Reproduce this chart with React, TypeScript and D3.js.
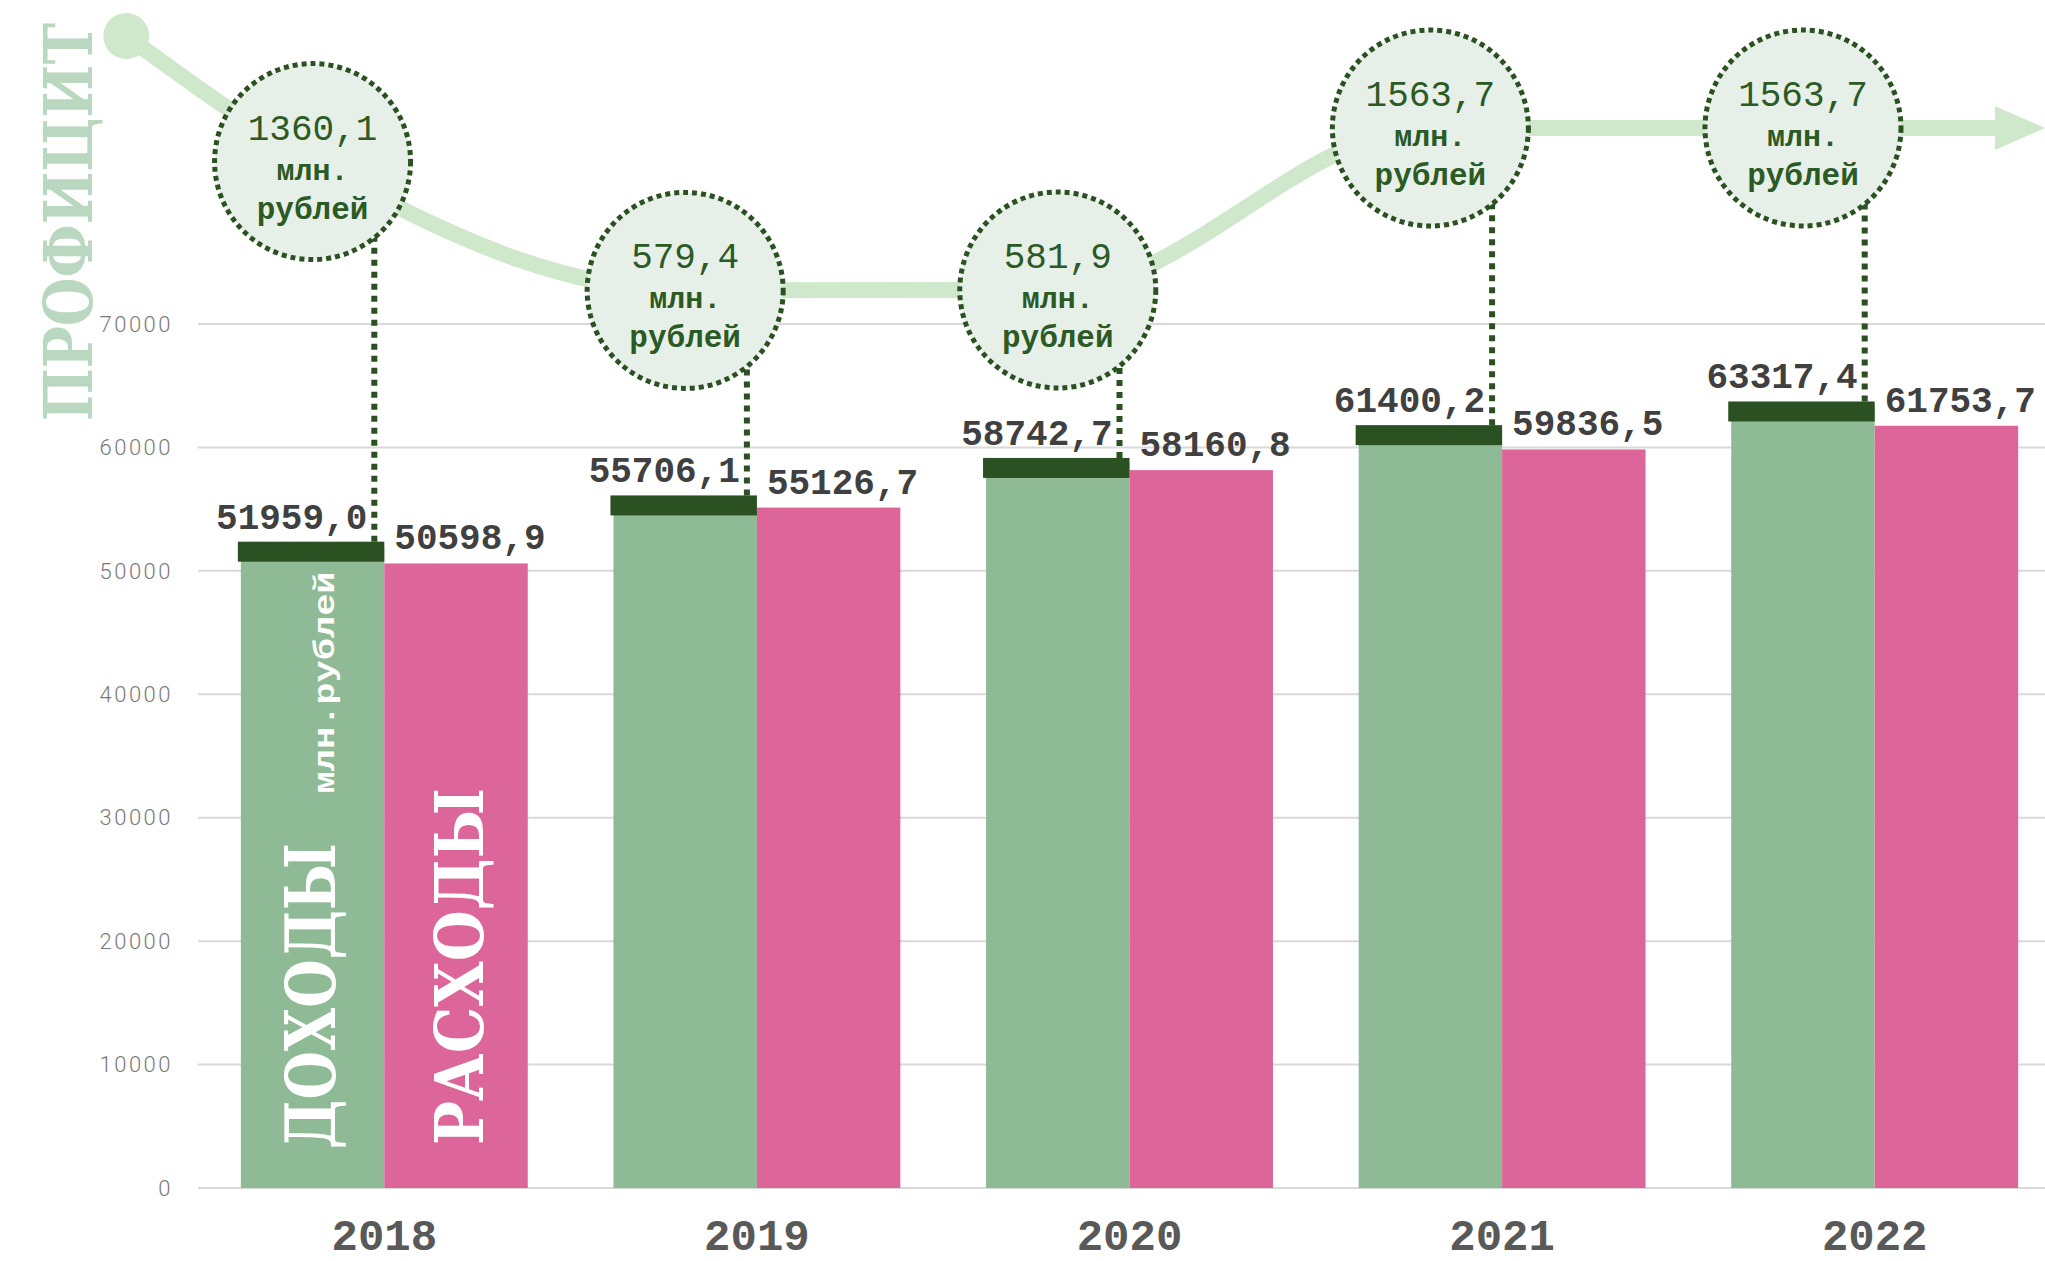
import * as d3 from 'd3';

// budget, млн. рублей
const years = ['2018', '2019', '2020', '2021', '2022'];
const income = [51959.0, 55706.1, 58742.7, 61400.2, 63317.4];
const expense = [50598.9, 55126.7, 58160.8, 59836.5, 61753.7];
const surplus = [1360.1, 579.4, 581.9, 1563.7, 1563.7];
const yTicks = [0, 10000, 20000, 30000, 40000, 50000, 60000, 70000];

const W = 2045;
const H = 1261;

const GREEN = '#8fba96';
const PINK = '#dc6699';
const DARK = '#2b5122';
const LINE = '#cfe8cc';

const fmt = (v: number) => v.toFixed(1).replace('.', ',');

const mono = '"Liberation Mono", "DejaVu Sans Mono", monospace';
const serif = '"DejaVu Serif", "Liberation Serif", serif';

export default function App() {
  const x = d3.scaleBand<string>().domain(years).range([198, 2061]).paddingInner(0.23).paddingOuter(0.115);
  const xs = d3.scaleBand<string>().domain(['income', 'expense']).range([0, x.bandwidth()]);
  const y = d3.scaleLinear().domain([0, 70000]).range([1188, 324]);
  // hidden scale for the surplus ribbon
  const yp = d3.scaleLinear().domain([0, 2000]).range([386, 56]);
  const bw = xs.bandwidth();

  const gx = (i: number) => (x(years[i]) as number) + (xs('income') as number);
  const rx = (i: number) => (x(years[i]) as number) + (xs('expense') as number);
  const cx = (i: number) => gx(i) + bw / 2;

  const lastY = yp(surplus[surplus.length - 1]);
  const pts: [number, number][] = [
    [cx(0) - x.step() / 2, 36],
    ...years.map((_, i) => [cx(i), yp(surplus[i])] as [number, number]),
    [W - 50, lastY],
  ];
  const ribbon = d3.line().curve(d3.curveMonotoneX)(pts) || '';

  const R = 98;
  const capH = 20;

  return (
    <div>
      <style>{`body{margin:0;background:#fff}`}</style>
      <svg width={W} height={H} style={{ display: 'block' }}>
        {/* grid + y axis */}
        {yTicks.map((t) => (
          <g key={t}>
            <line x1={198} x2={W} y1={y(t)} y2={y(t)} stroke="#d9d9d9" strokeWidth={2} />
            <text
              x={173}
              y={y(t)}
              dy="0.35em"
              textAnchor="end"
              fontFamily="Roboto, sans-serif"
              fontWeight={300}
              fontSize={22}
              letterSpacing={2.5}
              fill="#7a7a7a"
            >
              {t}
            </text>
          </g>
        ))}

        {/* surplus ribbon */}
        <path d={ribbon} fill="none" stroke={LINE} strokeWidth={16} />
        <circle cx={pts[0][0]} cy={pts[0][1]} r={23} fill={LINE} />
        <polygon points={`${W},${lastY} ${W - 50},${lastY - 22} ${W - 50},${lastY + 22}`} fill={LINE} />

        <text
          transform={`translate(92,421) rotate(-90)`}
          fontFamily={serif}
          fontWeight={700}
          fontSize={68}
          fill="#b9d8bf"
          textLength={398}
          lengthAdjust="spacingAndGlyphs"
        >
          ПРОФИЦИТ
        </text>

        {/* bars */}
        {years.map((yr, i) => (
          <g key={yr}>
            <rect x={gx(i)} y={y(income[i])} width={bw} height={y(0) - y(income[i])} fill={GREEN} />
            <rect x={rx(i)} y={y(expense[i])} width={bw} height={y(0) - y(expense[i])} fill={PINK} />
            <rect x={gx(i) - 3} y={y(income[i]) - 5} width={bw + 3} height={capH} fill={DARK} />
            <text
              x={gx(i) + bw - 17}
              y={y(income[i]) - 18}
              textAnchor="end"
              fontFamily={mono}
              fontWeight={700}
              fontSize={36}
              fill="#404040"
            >
              {fmt(income[i])}
            </text>
            <text
              x={rx(i) + 10}
              y={y(expense[i]) - 14}
              fontFamily={mono}
              fontWeight={700}
              fontSize={36}
              fill="#404040"
            >
              {fmt(expense[i])}
            </text>
            <text
              x={x(yr)! + x.bandwidth() / 2}
              y={1250}
              textAnchor="middle"
              fontFamily={mono}
              fontWeight={700}
              fontSize={44}
              fill="#595959"
            >
              {yr}
            </text>
          </g>
        ))}

        {/* series labels inside first group */}
        <text
          transform={`translate(${cx(0) + 22},${y(0) - 39}) rotate(-90)`}
          fontFamily={serif}
          fontWeight={700}
          fontSize={70}
          fill="#fff"
          textLength={306}
          lengthAdjust="spacingAndGlyphs"
        >
          ДОХОДЫ
        </text>
        <text
          transform={`translate(${rx(0) + bw / 2 + 27},${y(0) - 43}) rotate(-90)`}
          fontFamily={serif}
          fontWeight={700}
          fontSize={68}
          fill="#fff"
          textLength={357}
          lengthAdjust="spacingAndGlyphs"
        >
          РАСХОДЫ
        </text>
        <text
          transform={`translate(${cx(0) + 21},${y(expense[0]) + 8}) rotate(-90)`}
          textAnchor="end"
          fontFamily={mono}
          fontWeight={700}
          fontSize={30}
          fill="#fff"
          textLength={222}
          lengthAdjust="spacingAndGlyphs"
        >
          млн.рублей
        </text>

        {/* connectors + surplus bubbles */}
        {years.map((yr, i) => {
          const cy = yp(surplus[i]);
          return (
            <g key={'b' + yr}>
              <line
                x1={gx(i) + bw - 10}
                x2={gx(i) + bw - 10}
                y1={y(income[i]) - 5}
                y2={cy}
                stroke={DARK}
                strokeWidth={6}
                strokeDasharray="6 6"
              />
              <circle cx={cx(i)} cy={cy} r={R} fill="#e6f0e8" stroke={DARK} strokeWidth={5} strokeDasharray="5 4" />
              <text x={cx(i)} y={cy - 22} textAnchor="middle" fontFamily={mono} fontWeight={400} fontSize={36} fill="#2c5a25">
                {fmt(surplus[i])}
              </text>
              <text x={cx(i)} y={cy + 18} textAnchor="middle" fontFamily={mono} fontWeight={700} fontSize={30} fill="#2c5a25">
                млн.
              </text>
              <text x={cx(i)} y={cy + 57} textAnchor="middle" fontFamily={mono} fontWeight={700} fontSize={31} fill="#2c5a25">
                рублей
              </text>
            </g>
          );
        })}
      </svg>
    </div>
  );
}
